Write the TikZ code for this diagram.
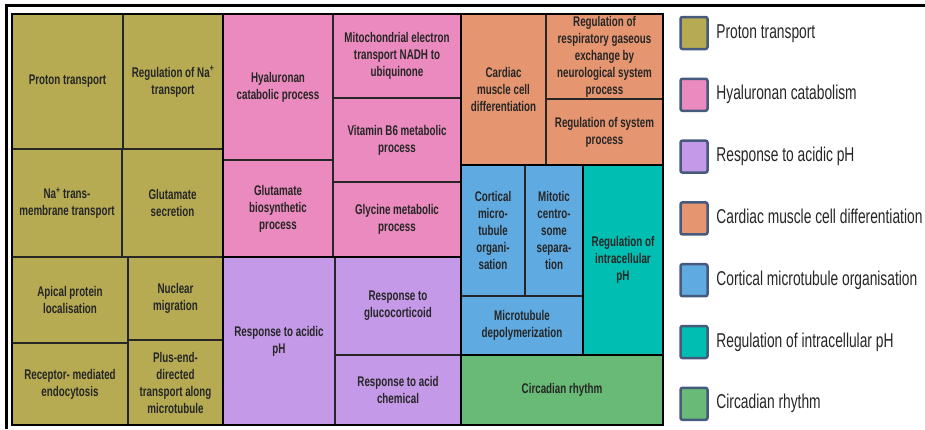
\documentclass[tikz,border=0pt]{standalone}
\usepackage{fontspec}
\setmainfont{Liberation Sans}
\usetikzlibrary{positioning}

\definecolor{proton}{RGB}{182,171,82}
\definecolor{hyal}{RGB}{234,138,190}
\definecolor{acidic}{RGB}{196,153,232}
\definecolor{cardiac}{RGB}{229,150,112}
\definecolor{cortical}{RGB}{96,170,226}
\definecolor{intra}{RGB}{0,190,178}
\definecolor{circ}{RGB}{104,186,118}
\definecolor{keyline}{RGB}{70,90,125}

\tikzset{
    cell/.style={draw=black!85, line width=1.2pt},
    grp/.style={draw=black, line width=2.5pt},
    lbl/.style={align=center, inner sep=0pt, xscale=0.7, text=black!85,
        font=\bfseries\fontsize{14}{17}\selectfont},
    key/.style={draw=keyline, line width=2.5pt, rounded corners=2pt,
        minimum width=27pt, minimum height=32pt, inner sep=0pt},
    keytext/.style={inner sep=0pt, xscale=0.69, text=black!85,
        text height=10pt, text depth=0pt,
        font=\fontsize{20}{24}\selectfont}
}

\begin{document}
\begin{tikzpicture}[x=1pt, y=-1pt]
    \useasboundingbox (0,0) rectangle (925,429);
    
    %cells of the treemap
    \foreach \xa/\ya/\xb/\yb/\c in {
        12/14/123/149/proton, 123/14/223/149/proton,
        12/149/122/257/proton, 122/149/223/257/proton,
        12/257/128/343/proton, 12/343/128/425/proton,
        128/257/223/340/proton, 128/340/223/425/proton,
        223/14/333/160/hyal, 223/160/333/257/hyal,
        333/14/461/98/hyal, 333/98/461/182/hyal, 333/182/461/257/hyal,
        223/257/335/425/acidic, 335/257/461/355/acidic, 335/355/461/425/acidic,
        461/14/546/165/cardiac, 546/14/663/99/cardiac, 546/99/663/165/cardiac,
        461/165/525/296/cortical, 525/165/583/296/cortical,
        461/296/583/355/cortical,
        583/165/663/355/intra,
        461/355/663/425/circ}
    {
        \filldraw[cell, fill=\c] (\xa,\ya) rectangle (\xb,\yb);
    }
    
    %group borders
    \foreach \xa/\ya/\xb/\yb in {
        12/14/223/425, 223/14/461/257, 223/257/461/425,
        461/14/663/165, 461/165/583/355, 583/165/663/355, 461/355/663/425}
    {
        \draw[grp] (\xa,\ya) rectangle (\xb,\yb);
    }
    
    %proton transport
    \node[lbl] (proton) at (67.5,81.5) {Proton transport};
    \node[lbl] (natrans) at (173,81.5) {Regulation of Na\textsuperscript{+}\\transport};
    \node[lbl] (namemb) at (67,203) {Na\textsuperscript{+} trans-\\membrane transport};
    \node[lbl] (glusec) at (172.5,203) {Glutamate\\secretion};
    \node[lbl] (apical) at (70,300) {Apical protein\\localisation};
    \node[lbl] (receptor) at (70,384) {Receptor- mediated\\endocytosis};
    \node[lbl] (nuclear) at (175.5,298.5) {Nuclear\\migration};
    \node[lbl] (plusend) at (175.5,382.5) {Plus-end-\\directed\\transport along\\microtubule};
    
    %hyaluronan catabolism
    \node[lbl] (hyal) at (278,87) {Hyaluronan\\catabolic process};
    \node[lbl] (glubio) at (278,208.5) {Glutamate\\biosynthetic\\process};
    \node[lbl] (mito) at (397,56) {Mitochondrial electron\\transport NADH to\\ubiquinone};
    \node[lbl] (vitb6) at (397,140) {Vitamin B6 metabolic\\process};
    \node[lbl] (glycine) at (397,219.5) {Glycine metabolic\\process};
    
    %response to acidic pH
    \node[lbl] (acidic) at (279,341) {Response to acidic\\pH};
    \node[lbl] (gluco) at (398,306) {Response to\\glucocorticoid};
    \node[lbl] (acidchem) at (398,390) {Response to acid\\chemical};
    
    %cardiac, cortical, intracellular pH, circadian
    \node[lbl] (cardiac) at (503.5,89.5) {Cardiac\\muscle cell\\differentiation};
    \node[lbl] (resp) at (604.5,56.5) {Regulation of\\respiratory gaseous\\exchange by\\neurological system\\process};
    \node[lbl] (system) at (604.5,132) {Regulation of system\\process};
    \node[lbl] (cortical) at (493,230.5) {Cortical\\micro-\\tubule\\organi-\\sation};
    \node[lbl] (mitotic) at (554,230.5) {Mitotic\\centro-\\some\\separa-\\tion};
    \node[lbl] (depoly) at (522,325.5) {Microtubule\\depolymerization};
    \node[lbl] (intra) at (623,260) {Regulation of\\intracellular\\pH};
    \node[lbl] (circ) at (562,390) {Circadian rhythm};
    
    %legend
    \foreach \c/\t [count=\i] in {proton/Proton transport,
        hyal/Hyaluronan catabolism, acidic/Response to acidic pH,
        cardiac/Cardiac muscle cell differentiation,
        cortical/Cortical microtubule organisation,
        intra/Regulation of intracellular pH, circ/Circadian rhythm}
    {
        \node[key, fill=\c] (key\i) at (694,{33+61.8*(\i-1)}) {};
        \node[keytext, right=7.5pt of key\i] (keytext\i) {\t};
    }
    
    %frame
    \draw[line width=3pt] (925,5) -- (6.5,5) -- (6.5,429);
\end{tikzpicture}
\end{document}
